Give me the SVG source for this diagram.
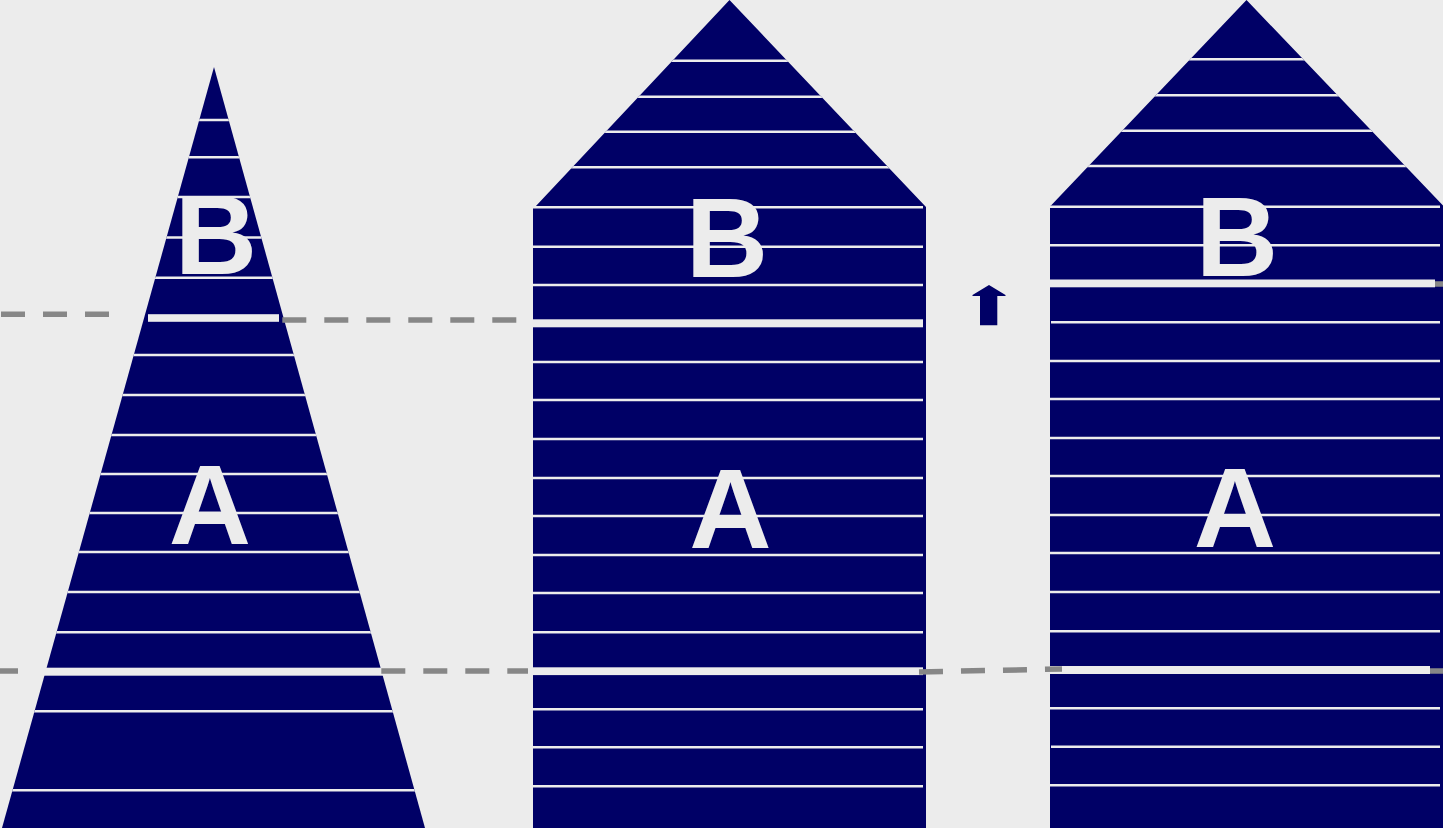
<svg xmlns="http://www.w3.org/2000/svg" width="1443" height="828" viewBox="0 0 1443 828">
<style>
.shape{fill:#000066}
.ln{stroke:#ececec;stroke-width:2.5;fill:none}
.band{fill:#ececec}
.lbl{font-family:"Liberation Sans",Arial,sans-serif;font-weight:bold;font-size:114px;fill:#ececec;text-anchor:middle}
.dash{stroke:#878787;stroke-width:5.5;fill:none;stroke-dasharray:24 18}
.solid{stroke:#878787;stroke-width:5.5;fill:none}
</style>
<defs>
<clipPath id="clipTri"><polygon points="214,67 425,828 2,828"/></clipPath>
<clipPath id="clipMid"><polygon points="729.5,0 926,207 926,828 533,828 533,207 535,207"/></clipPath>
<clipPath id="clipRight"><polygon points="1246.5,0 1443,205.5 1443,828 1050,828 1050,206 1051,205.5"/></clipPath>
</defs>
<rect x="0" y="0" width="1443" height="828" fill="#ececec"/>

<g id="node-triangle">
<polygon class="shape" points="214,67 425,828 2,828"/>
<g clip-path="url(#clipTri)" class="ln">
<path d="M0,120H430M0,157.3H430M0,197H430M0,237.5H430M0,277.7H430M0,355H430M0,395H430M0,435H430M0,474H430M0,513H430M0,552H430M0,592H430M0,632.3H430M0,711.3H430M0,790.3H430"/>
</g>
<rect class="band" x="148" y="314.2" width="131" height="7.6"/>
<rect class="band" x="40" y="667.7" width="346" height="8"/>
<text class="lbl" x="216" y="274.3">B</text>
<text class="lbl" x="210" y="544">A</text>
</g>

<g id="node-middle">
<polygon class="shape" points="729.5,0 926,207 926,828 533,828 533,207 535,207"/>
<g clip-path="url(#clipMid)" class="ln">
<path d="M520,60.7H940M520,96.7H940M520,131.7H940M520,167.3H940"/>
</g>
<path class="ln" d="M533,207.3H923M533,246.7H923M533,285H923M533,362H923M533,400H923M533,439H923M533,478H923M533,516H923M533,555H923M533,593H923M533,632.3H923M533,709.3H923M533,747.3H923M533,786.3H923"/>
<rect class="band" x="533" y="319.3" width="390" height="8"/>
<rect class="band" x="530" y="667.3" width="393" height="7.8"/>
<text class="lbl" x="727" y="276.7">B</text>
<text class="lbl" x="730.5" y="548">A</text>
</g>

<g id="node-arrow">
<polygon class="shape" points="989,285 1005.5,295 1005.5,296 997.3,296 997.3,325.3 980,325.3 980,296 972.5,296 972.5,295"/>
</g>

<g id="node-right">
<polygon class="shape" points="1246.5,0 1443,205.5 1443,828 1050,828 1050,206 1051,205.5"/>
<g clip-path="url(#clipRight)" class="ln">
<path d="M1040,59.3H1443M1040,95.3H1443M1040,130.7H1443M1040,166H1443"/>
</g>
<path class="ln" d="M1050,206.7H1440M1050,245.3H1440M1051,322.3H1440M1050,361H1440M1050,399H1440M1050,438H1440M1050,476H1440M1050,515H1440M1050,553H1440M1050,592H1440M1050,631.3H1440M1050,708.3H1440M1051,746.7H1440M1050,785.3H1440"/>
<rect class="band" x="1050" y="279.5" width="385" height="7.8"/>
<rect class="band" x="1050" y="666" width="380" height="8"/>
<text class="lbl" x="1237" y="276">B</text>
<text class="lbl" x="1235" y="547">A</text>
</g>

<g id="connectors">
<path class="dash" d="M1,314.3H109"/>
<path class="dash" d="M282.3,320H516.3"/>
<path class="solid" d="M0,671H18"/>
<path class="dash" d="M381.3,671H528"/>
<path class="dash" d="M919,672L1062,669"/>
<path class="solid" d="M1430,671H1443"/>
<path class="solid" d="M1435,284H1443"/>
</g>
</svg>
